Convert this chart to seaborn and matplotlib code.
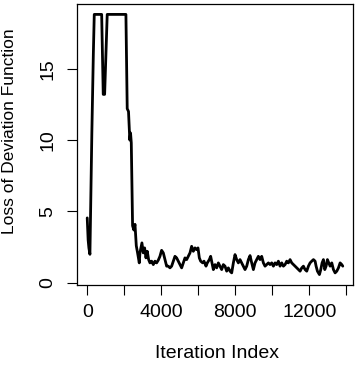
import matplotlib
matplotlib.use("Agg")
import matplotlib.pyplot as plt
import seaborn as sns
import numpy as np
import pandas as pd

iteration = [0, 50, 90, 146, 250, 330, 380, 780, 865, 940, 1080, 2090, 2160, 2230,
             2300, 2340, 2380, 2450, 2520, 2580, 2650, 2720, 2811,
             2847, 2955, 3027, 3099, 3172, 3244, 3316, 3388, 3478, 3568, 3658, 3748,
             3838, 3928, 4018, 4109, 4199, 4289, 4379, 4469, 4559, 4649, 4739, 4829,
             4919, 5010, 5100, 5190, 5280, 5370, 5460, 5550, 5640, 5730, 5820, 5911,
             5983, 6055, 6127, 6235, 6307, 6415, 6487, 6595, 6667, 6739, 6812, 6902,
             6992, 7082, 7172, 7262, 7352, 7442, 7532, 7622, 7713, 7803, 7893, 7983,
             8073, 8163, 8253, 8343, 8433, 8523, 8614, 8704, 8794, 8884, 8974, 9064,
             9154, 9244, 9334, 9424, 9515, 9605, 9695, 9785, 9875, 9965, 10055, 10145,
             10235, 10325, 10416, 10506, 10596, 10686, 10776, 10866, 10956, 11046,
             11136, 11226, 11317, 11407, 11497, 11587, 11677, 11767, 11857, 11947,
             12037, 12127, 12218, 12308, 12362, 12434, 12542, 12614, 12686, 12758,
             12830, 12902, 12974, 13046, 13119, 13209, 13299, 13389, 13479, 13569,
             13659, 13749, 13803]
loss = [4.55, 3.0, 2.45, 2.0, 10.5, 16.0, 18.8, 18.8, 13.2, 13.2, 18.8, 18.8, 12.2, 12.0,
        10.0, 10.5, 9.8, 4.0, 3.7, 4.1, 2.6, 2.1, 1.4,
        2.10, 2.80, 2.10, 2.45, 1.75, 2.21, 1.63, 1.40, 1.52, 1.28, 1.52, 1.40,
        1.59, 1.86, 2.28, 2.10, 1.63, 1.17, 1.17, 1.05, 1.17, 1.52, 1.86, 1.75,
        1.52, 1.28, 1.05, 1.40, 1.75, 1.63, 1.86, 2.10, 2.56, 2.21, 2.45, 2.33,
        2.45, 1.75, 1.52, 1.40, 1.52, 1.17, 1.40, 1.63, 1.86, 1.40, 0.93, 1.28,
        1.05, 1.40, 1.17, 0.93, 1.28, 1.17, 0.82, 1.05, 0.82, 0.70, 1.40, 1.98,
        1.63, 1.40, 1.63, 1.40, 1.17, 0.93, 1.17, 1.63, 1.91, 1.40, 0.93, 1.40,
        1.63, 1.86, 1.63, 1.86, 1.40, 1.17, 1.28, 1.40, 1.28, 1.40, 1.17, 1.40,
        1.28, 1.52, 1.17, 1.40, 1.17, 1.28, 1.52, 1.40, 1.63, 1.40,
        1.28, 1.17, 1.05, 0.93, 0.82, 1.05, 1.17, 0.93, 0.82, 1.17,
        1.40, 1.52, 1.63, 1.52, 1.17, 0.82, 0.58, 0.93, 1.40, 1.63,
        0.93, 1.17, 1.63, 1.40, 1.17, 1.40, 0.93, 0.70, 0.82, 1.05,
        1.40, 1.28, 1.17]

xticks = [0, 2000, 4000, 6000, 8000, 10000, 12000, 14000]
xtick_labels = ["0", "", "4000", "", "8000", "", "12000", ""]
yticks = [0, 5, 10, 15]
ytick_labels = ["0", "5", "10", "15"]
x_label = "Iteration Index"
y_label = "Loss of Deviation Function"

sns.set_style("ticks")
plt.rcParams["font.family"] = ["Liberation Sans", "DejaVu Sans"]

df = pd.DataFrame({"iteration": iteration, "loss": loss})

W, H = 359, 367
fig = plt.figure(figsize=(W / 100, H / 100), dpi=100)
ax = fig.add_axes([77 / W, 1 - 285 / H, (353 - 77) / W, (285 - 4) / H])

sns.lineplot(data=df, x="iteration", y="loss", ax=ax, color="black",
             linewidth=2.0, estimator=None, sort=False)

xmin, xmax = min(iteration), max(iteration)
ymin, ymax = min(loss), max(loss)
ax.set_xlim(xmin - 0.04 * (xmax - xmin), xmax + 0.04 * (xmax - xmin))
ax.set_ylim(ymin - 0.04 * (ymax - ymin), ymax + 0.04 * (ymax - ymin))

ax.set_xticks(xticks)
ax.set_xticklabels(xtick_labels, fontsize=14)
ax.set_yticks(yticks)
ax.set_yticklabels(ytick_labels, fontsize=14, rotation=90, va="center")

for s in ax.spines.values():
    s.set_visible(True)
    s.set_color("black")
    s.set_linewidth(0.9)

ax.tick_params(axis="both", direction="out", length=7, width=0.8, color="black",
               labelcolor="black")
ax.tick_params(axis="x", pad=7)
ax.tick_params(axis="y", pad=8)

ax.set_xlabel(x_label, fontsize=14, color="black")
ax.set_ylabel(y_label, fontsize=12.5, color="black")
ax.xaxis.set_label_coords((217 - 77) / (353 - 77), -(353 - 285) / (285 - 4))
ax.yaxis.set_label_coords(-(77 - 10) / (353 - 77), (285 - 131) / (285 - 4))
ax.xaxis.label.set_va("center")
ax.yaxis.label.set_va("center")

fig.savefig("out.png", dpi=100)
